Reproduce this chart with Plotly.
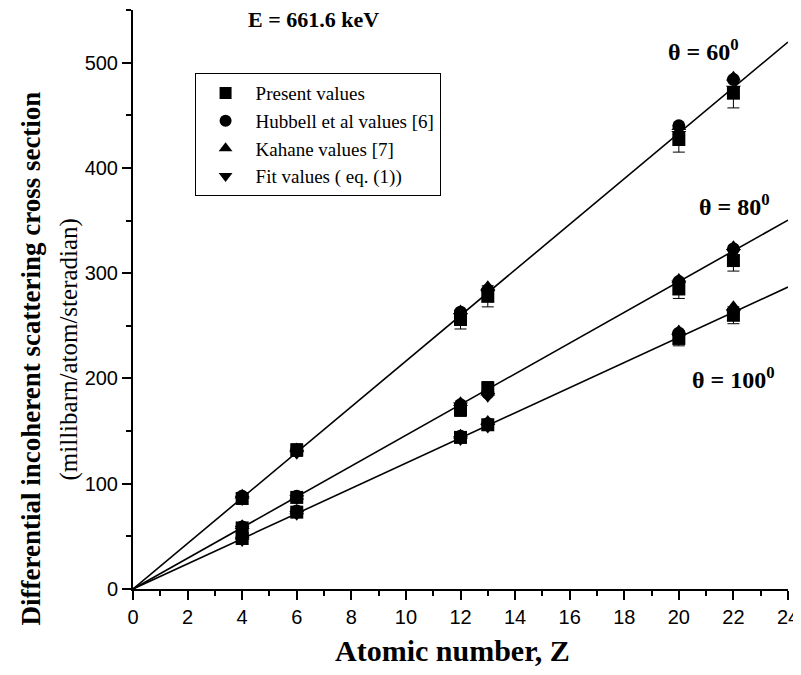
import plotly.graph_objects as go

Z = [4, 6, 12, 13, 20, 22]

# theta = 60 deg
present_60 = [86, 132, 256, 278, 427, 471]
present_60_err = [5, 6, 9, 10, 12, 14]
hubbell_60 = [88, 132, 263, 284, 440, 484]
kahane_60 = [89, 133, 264, 287, 439, 486]
fit_60 = [85, 129, 259, 281, 432, 475]

# theta = 80 deg
present_80 = [58, 87, 170, 191, 285, 312]
present_80_err = [3, 4, 6, 6, 9, 10]
hubbell_80 = [59, 88, 175, 186, 292, 323]
kahane_80 = [60, 88, 177, 187, 294, 325]
fit_80 = [57, 86, 174, 183, 290, 320]

# theta = 100 deg
present_100 = [48, 73, 144, 156, 238, 260]
present_100_err = [3, 3, 5, 5, 7, 8]
hubbell_100 = [50, 74, 145, 157, 243, 264]
kahane_100 = [50, 74, 146, 159, 245, 268]
fit_100 = [46, 71, 142, 154, 239, 262]

line_Z = [0, 24]
line_slopes = [21.65, 14.6, 11.95]

fig = go.Figure()

for s in line_slopes:
    fig.add_trace(go.Scatter(x=line_Z, y=[s * z for z in line_Z], mode="lines",
                             line=dict(color="black", width=1.6), showlegend=False,
                             hoverinfo="skip"))

msize = 13
groups = [
    ("Present values", "square", [present_60, present_80, present_100],
     [present_60_err, present_80_err, present_100_err]),
    ("Hubbell et al values [6]", "circle", [hubbell_60, hubbell_80, hubbell_100], None),
    ("Kahane values [7]", "triangle-up", [kahane_60, kahane_80, kahane_100], None),
    ("Fit values ( eq. (1))", "triangle-down", [fit_60, fit_80, fit_100], None),
]
for name, sym, series, errs in groups:
    for i, ys in enumerate(series):
        kw = {}
        if errs is not None:
            kw["error_y"] = dict(type="data", array=errs[i], color="black",
                                 thickness=1, width=6)
        fig.add_trace(go.Scatter(x=Z, y=ys, mode="markers", name=name,
                                 legendgroup=name, showlegend=(i == 0),
                                 marker=dict(symbol=sym, size=msize, color="black"),
                                 **kw))

serif = "Liberation Serif, Times New Roman, serif"
tickfont = dict(family="Liberation Sans, Arial", size=20, color="black")

fig.update_layout(
    width=801, height=675,
    margin=dict(l=125, r=21, t=2, b=94),
    paper_bgcolor="white", plot_bgcolor="white",
    legend=dict(x=0.094, y=0.891, xanchor="left", yanchor="top",
                bordercolor="black", borderwidth=1, bgcolor="white",
                font=dict(family=serif, size=19, color="black"),
                tracegroupgap=0, itemsizing="constant", itemwidth=50),
    xaxis=dict(range=[0, 24], tickmode="linear", tick0=0, dtick=2, automargin=False,
               showline=True, linecolor="black", linewidth=2, showgrid=False,
               zeroline=False, ticks="outside", ticklen=9, tickwidth=2,
               tickcolor="black", tickfont=tickfont,
               minor=dict(dtick=1, ticks="outside", ticklen=5, tickwidth=2, tickcolor="black")),
    yaxis=dict(range=[0, 550], tickmode="linear", tick0=0, dtick=100, automargin=False,
               showline=True, linecolor="black", linewidth=2, showgrid=False,
               zeroline=False, ticks="outside", ticklen=9, tickwidth=2,
               tickcolor="black", tickfont=tickfont,
               minor=dict(dtick=50, ticks="outside", ticklen=5, tickwidth=2, tickcolor="black")),
    annotations=[
        dict(text="<b>E = 661.6 keV</b>", x=0.275, y=1.0, xref="paper", yref="paper",
             xanchor="center", yanchor="top", yshift=5, showarrow=False,
             font=dict(family=serif, size=22, color="black")),
        dict(text="<b>θ = 60<sup>0</sup></b>", x=20.9, y=512, xref="x", yref="y",
             showarrow=False, font=dict(family=serif, size=24, color="black")),
        dict(text="<b>θ = 80<sup>0</sup></b>", x=22.05, y=365, xref="x", yref="y",
             showarrow=False, font=dict(family=serif, size=24, color="black")),
        dict(text="<b>θ = 100<sup>0</sup></b>", x=22.0, y=200, xref="x", yref="y",
             showarrow=False, font=dict(family=serif, size=24, color="black")),
        dict(text="<b>Atomic number, Z</b>", x=0.5, y=0, xref="paper", yref="paper",
             xanchor="center", yanchor="middle", xshift=-8, yshift=-61, showarrow=False,
             font=dict(family=serif, size=30, color="black")),
        dict(text="<b>Differential incoherent scattering cross section</b>",
             x=0, y=0.5, xref="paper", yref="paper", xanchor="center", yanchor="middle",
             xshift=-103, yshift=-59, textangle=-90, showarrow=False,
             font=dict(family=serif, size=27, color="black")),
        dict(text="(millibarn/atom/steradian)",
             x=0, y=0.5, xref="paper", yref="paper", xanchor="center", yanchor="middle",
             xshift=-65, yshift=-50, textangle=-90, showarrow=False,
             font=dict(family=serif, size=25, color="black")),
    ],
)

fig.write_html("out.html")
